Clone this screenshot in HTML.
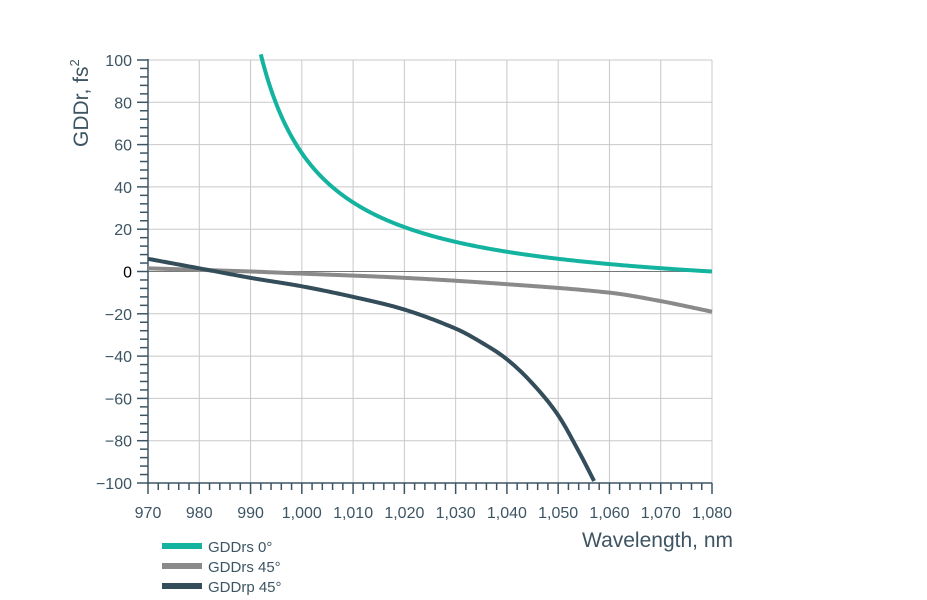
<!DOCTYPE html>
<html><head><meta charset="utf-8"><style>
html,body{margin:0;padding:0;background:#fff;}
svg{display:block;font-family:"Liberation Sans","DejaVu Sans",sans-serif;}
</style></head><body>
<svg id="s" width="927" height="600" xmlns="http://www.w3.org/2000/svg">
<g id="grid" stroke="#c8c8c8" stroke-width="1"></g>
<line x1="148" y1="271.5" x2="712" y2="271.5" stroke="#777" stroke-width="1"/>
<g id="axes" stroke="#3d5563" stroke-width="1.5" fill="none"></g>
<g id="lab" fill="#3d5563" font-size="16"></g>
<path id="c2" fill="none" stroke="#8a8a8a" stroke-width="4"/>
<path id="c3" fill="none" stroke="#344d5a" stroke-width="4"/>
<path id="c1" fill="none" stroke="#14b39f" stroke-width="4"/>
<text x="0" y="0" transform="translate(88,147) rotate(-90)" font-size="21" fill="#3d5563">GDDr, fs<tspan font-size="13" dy="-9">2</tspan></text>
<text x="733" y="547" text-anchor="end" font-size="21" fill="#3d5563">Wavelength, nm</text>
<rect x="162" y="543" width="40" height="6" fill="#14b39f"/>
<rect x="162" y="563" width="40" height="6" fill="#8a8a8a"/>
<rect x="162" y="583" width="40" height="6" fill="#344d5a"/>
<text x="208" y="552" font-size="15" fill="#3d5563">GDDrs 0°</text>
<text x="208" y="572" font-size="15" fill="#3d5563">GDDrs 45°</text>
<text x="208" y="592" font-size="15" fill="#3d5563">GDDrp 45°</text>
</svg>
<script>
var NS="http://www.w3.org/2000/svg";
function X(n){return 148+(n-970)*564/110;}
function Y(v){return 271.5-v*2.115;}
function el(p,t,a,txt){var e=document.createElementNS(NS,t);for(var k in a)e.setAttribute(k,a[k]);if(txt!=null)e.textContent=txt;document.getElementById(p).appendChild(e);}
for(var n=980;n<=1080;n+=10)el("grid","line",{x1:X(n),y1:60,x2:X(n),y2:483});
for(var v=-80;v<=100;v+=20)if(v!=0)el("grid","line",{x1:148,y1:Y(v),x2:712,y2:Y(v)});
el("axes","line",{x1:148,y1:59,x2:148,y2:484});
el("axes","line",{x1:147,y1:483,x2:712,y2:483});
for(var v=-100;v<=100;v+=4){var maj=v%20==0;el("axes","line",{x1:maj?137:140,y1:Y(v),x2:148,y2:Y(v)});}
for(var n=970;n<=1080;n+=2){var maj=n%10==0;el("axes","line",{x1:X(n),y1:483,x2:X(n),y2:maj?494:490});}
for(var v=-100;v<=100;v+=20){var s=v<0?"\u2212"+(-v):""+v;el("lab","text",{x:132,y:Y(v)+6,"text-anchor":"end",fill:v==0?"#000":"#3d5563"},s);}
for(var n=970;n<=1080;n+=10){var s=n>=1000?"1,"+("00"+(n-1000)).slice(-3):""+n;el("lab","text",{x:X(n),y:518,"text-anchor":"middle"},s);}
function path(f,a,b){var d="";for(var n=a;n<=b+1e-9;n+=0.25){d+=(d?"L":"M")+X(n).toFixed(2)+","+Y(f(n)).toFixed(2);}return d;}
function interp(pts){return function(x){for(var i=0;i<pts.length-1;i++){if(x<=pts[i+1][0]){var p0=pts[Math.max(i-1,0)],p1=pts[i],p2=pts[i+1],p3=pts[Math.min(i+2,pts.length-1)];var t=(x-p1[0])/(p2[0]-p1[0]);var m1=(p2[1]-p0[1])/(p2[0]-p0[0])*(p2[0]-p1[0]);var m2=(p3[1]-p1[1])/(p3[0]-p1[0])*(p2[0]-p1[0]);var t2=t*t,t3=t2*t;return (2*t3-3*t2+1)*p1[1]+(t3-2*t2+t)*m1+(-2*t3+3*t2)*p2[1]+(t3-t2)*m2;}}return pts[pts.length-1][1];};}
document.getElementById("c1").setAttribute("d",path(function(n){return 1400/(n-980)-14;},992,1080));
document.getElementById("c2").setAttribute("d",path(interp([[970,1.5],[990,0],[1000,-1],[1020,-3],[1040,-6],[1060,-10],[1070,-14],[1080,-19]]),970,1080));
document.getElementById("c3").setAttribute("d",path(interp([[970,6],[980,1.5],[990,-3],[1000,-7],[1010,-12],[1020,-18],[1030,-27],[1035,-33.5],[1040,-41.5],[1045,-53],[1050,-68],[1054,-85],[1057.2,-100]]),970,1057.2));
</script>
</body></html>
